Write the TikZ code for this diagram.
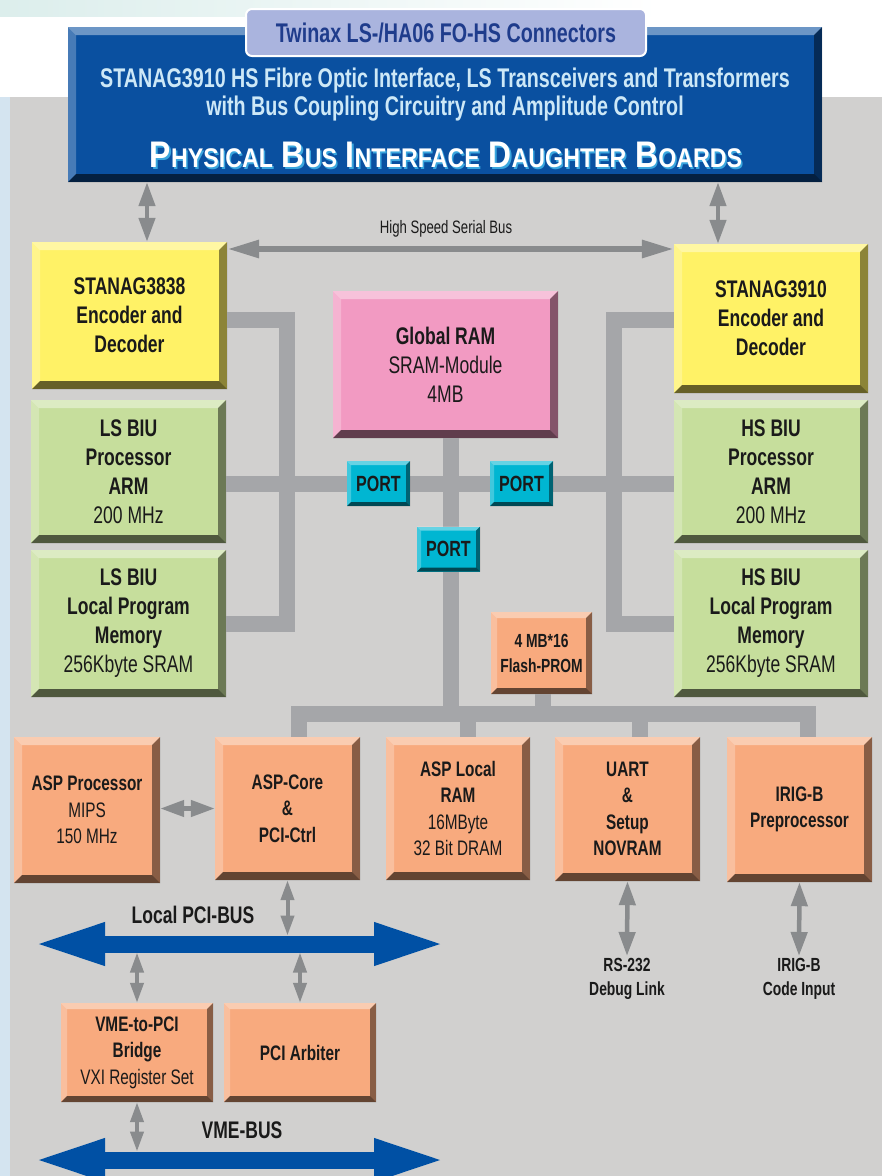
\documentclass[tikz,border=0pt]{standalone}
\usepackage{fontspec}
\setmainfont{Liberation Sans}[FakeStretch=0.73]
\newfontfamily\titlefont{Liberation Sans}[FakeStretch=0.86]
\usetikzlibrary{calc,arrows.meta}

\definecolor{bggray}{HTML}{D1D0CF}
\definecolor{sideblue}{HTML}{D4E4F0}
\definecolor{topteal}{HTML}{DCEEEC}
\definecolor{hdrblue}{HTML}{0A50A0}
\definecolor{tabblue}{HTML}{AAB4DE}
\definecolor{tabtext}{HTML}{1F3C8C}
\definecolor{hdrtext}{HTML}{CDE8F7}
\definecolor{ttlshade}{HTML}{3AA6DE}
\definecolor{byellow}{HTML}{FFF266}
\definecolor{bgreen}{HTML}{C6DE9C}
\definecolor{bpink}{HTML}{F29AC2}
\definecolor{borange}{HTML}{F8AA7E}
\definecolor{bcyan}{HTML}{00B6D2}
\definecolor{bargray}{HTML}{A5A6A9}
\definecolor{arrgray}{HTML}{898B8D}
\definecolor{busblue}{HTML}{0050A4}
\definecolor{ink}{HTML}{1A1A1A}

\newcommand\smc[1]{{\fontsize{27}{30}\selectfont #1}}
\newcommand\ttltext{P\smc{HYSICAL} B\smc{US} I\smc{NTERFACE} D\smc{AUGHTER} B\smc{OARDS}}

\tikzset{
  bevel/.style={path picture={
    \path (path picture bounding box.north west) coordinate (bv1)
          (path picture bounding box.north east) coordinate (bv2)
          (path picture bounding box.south east) coordinate (bv3)
          (path picture bounding box.south west) coordinate (bv4);
    \fill[white,opacity=.4] (bv1) -- (bv2) -- ([shift={(-#1pt,-#1pt)}]bv2) -- ([shift={(#1pt,-#1pt)}]bv1) -- cycle;
    \fill[white,opacity=.25] (bv1) -- ([shift={(#1pt,-#1pt)}]bv1) -- ([shift={(#1pt,#1pt)}]bv4) -- (bv4) -- cycle;
    \fill[black,opacity=.45] (bv2) -- (bv3) -- ([shift={(-#1pt,#1pt)}]bv3) -- ([shift={(-#1pt,-#1pt)}]bv2) -- cycle;
    \fill[black,opacity=.6] (bv4) -- (bv3) -- ([shift={(-#1pt,#1pt)}]bv3) -- ([shift={(#1pt,#1pt)}]bv4) -- cycle;
  }},
  bevel/.default=8,
  wh/.style 2 args={minimum width=#1pt, minimum height=#2pt},
  blk/.style={bevel, inner sep=0pt, align=center, text=ink, font=\fontsize{24}{29}\selectfont},
  sblk/.style={bevel, inner sep=0pt, align=center, text=ink, font=\fontsize{21}{26.5}\selectfont},
  port/.style={bevel=4, fill=bcyan, inner sep=0pt, wh={63}{45}, text=ink, font=\fontsize{22}{26}\selectfont\bfseries},
  bar/.style={draw=bargray, line width=16pt, line join=miter},
  garrow/.style={draw=arrgray, line width=4.5pt, {Triangle[width=16pt,length=24pt]}-{Triangle[width=16pt,length=24pt]}},
  sarrow/.style={draw=arrgray, line width=4pt, {Triangle[width=13pt,length=20pt]}-{Triangle[width=13pt,length=20pt]}},
  hsarrow/.style={draw=arrgray, line width=6pt, {Triangle[width=17pt,length=32pt]}-{Triangle[width=17pt,length=32pt]}},
  busarrow/.style={draw=busblue, line width=17pt, {Triangle[width=38pt,length=73pt]}-{Triangle[width=38pt,length=73pt]}},
  lbl/.style={text=ink, align=center, inner sep=2pt},
}

\begin{document}
\begin{tikzpicture}[x=1pt,y=-1pt]
\useasboundingbox (0,0) rectangle (882,1176);

%% background
\fill[white] (0,0) rectangle (882,1176);
\fill[left color=topteal, right color=white] (0,0) rectangle (660,16);
\fill[sideblue] (0,97) rectangle (10,1176);
\fill[bggray] (10,97) rectangle (882,1176);

%% physical bus interface daughter boards
\node[bevel, fill=hdrblue, wh={754}{155}, inner sep=0pt] (hdr) at (445,104.5) {};
\node[fill=tabblue, draw=white, line width=2pt, rounded corners=6pt, wh={400}{47}, inner sep=0pt,
      text=tabtext, font=\fontsize{27}{30}\selectfont\bfseries] (tab) at (446,32.5) {Twinax LS-/HA06 FO-HS Connectors};
\node[text=hdrtext, align=center, font=\fontsize{27}{28}\selectfont\bfseries] (hdrtxt) at (445,95)
  {STANAG3910 HS Fibre Optic Interface, LS Transceivers and Transformers\\with Bus Coupling Circuitry and Amplitude Control};
% light blue shade under the white title
\node[text=ttlshade, font=\titlefont\fontsize{37}{40}\selectfont\bfseries] (ttlsh) at (447.5,156.5) {\ttltext};
\node[text=white, font=\titlefont\fontsize{37}{40}\selectfont\bfseries] (ttl) at (446,155) {\ttltext};

%% encoders, BIUs and global RAM
\node[blk, fill=byellow, wh={195}{147}, font=\fontsize{24}{29}\selectfont\bfseries] (enc38) at (129.5,315.5) {STANAG3838\\Encoder and\\Decoder};
\node[blk, fill=byellow, wh={194}{149}, font=\fontsize{24}{29}\selectfont\bfseries] (enc10) at (771,318.5) {STANAG3910\\Encoder and\\Decoder};
\node[blk, fill=bgreen, wh={195}{143}] (lsproc) at (128.5,471.5) {\bfseries LS BIU\\\bfseries Processor\\\bfseries ARM\\200 MHz};
\node[blk, fill=bgreen, wh={195}{147}] (lsmem) at (128.5,623.5) {\bfseries LS BIU\\\bfseries Local Program\\\bfseries Memory\\256Kbyte SRAM};
\node[blk, fill=bgreen, wh={194}{143}] (hsproc) at (771,471.5) {\bfseries HS BIU\\\bfseries Processor\\\bfseries ARM\\200 MHz};
\node[blk, fill=bgreen, wh={194}{147}] (hsmem) at (771,623.5) {\bfseries HS BIU\\\bfseries Local Program\\\bfseries Memory\\256Kbyte SRAM};
\node[blk, fill=bpink, wh={225}{147}] (gram) at (445.5,364.5) {\bfseries Global RAM\\SRAM-Module\\4MB};

% internal buses
\coordinate (lt) at (287,320);
\coordinate (lb) at (287,624);
\coordinate (rt) at (614,320);
\coordinate (rb) at (614,624);
\coordinate (mid) at (0,484);
\coordinate (cv) at (451,714);
\coordinate (d1) at (299,714);
\coordinate (d2) at (468,714);
\coordinate (d3) at (640,714);
\coordinate (d4) at (808,714);
\coordinate (fl) at (543,714);
\draw[bar] (enc38.east |- lt) -- (lt) -- (lb) -- (lsmem.east |- lb);
\draw[bar] (enc10.west |- rt) -- (rt) -- (rb) -- (hsmem.west |- rb);
\draw[bar] (lsproc.east |- mid) -- (hsproc.west |- mid);
\draw[bar] (cv |- gram.south) -- (cv);

%% ASP section
\node[sblk, fill=borange, wh={146}{146}] (aspproc) at (87,810) {\bfseries ASP Processor\\MIPS\\150 MHz};
\node[sblk, fill=borange, wh={145}{143}, font=\fontsize{21}{26.5}\selectfont\bfseries] (aspcore) at (287.5,808.5) {ASP-Core\\\&\\PCI-Ctrl};
\node[sblk, fill=borange, wh={144}{143}] (asplram) at (458,808.5) {\bfseries ASP Local\\\bfseries RAM\\16MByte\\32 Bit DRAM};
\node[sblk, fill=borange, wh={145}{144}, font=\fontsize{21}{26.5}\selectfont\bfseries] (uart) at (627.5,809) {UART\\\&\\Setup\\NOVRAM};
\node[sblk, fill=borange, wh={145}{145}, font=\fontsize{21}{26.5}\selectfont\bfseries] (irig) at (799.5,809.5) {IRIG-B\\Preprocessor};
\node[sblk, bevel=6, fill=borange, wh={101}{82}, font=\fontsize{19}{25}\selectfont\bfseries] (flash) at (541.5,653) {4 MB*16\\Flash-PROM};

% ASP bus
\draw[bar] (d1 |- aspcore.north) -- (d1) -- (d4) -- (d4 |- irig.north);
\draw[bar] (d2) -- (d2 |- asplram.north);
\draw[bar] (d3) -- (d3 |- uart.north);
\draw[bar] (fl) -- (fl |- flash.south);

% ports
\node[port] (portl) at (378.5,483.5) {PORT};
\node[port] (portr) at (521.5,483.5) {PORT};
\node[port] (portc) at (448.5,549) {PORT};

%% connections
\coordinate (c1) at (147,0);
\coordinate (c2) at (718,0);
\coordinate (hs) at (0,249);
\draw[garrow] (hdr.south -| c1) -- (enc38.north -| c1);
\draw[garrow] (hdr.south -| c2) -- (enc10.north -| c2);
\draw[hsarrow] (enc38.east |- hs) -- (enc10.west |- hs);
\node[lbl, font=\fontsize{18}{21}\selectfont] (hslbl) at (446,229) {High Speed Serial Bus};
\draw[garrow] (aspproc.east |- aspcore.west) -- (aspcore.west);

% external links
\node[lbl, anchor=north, font=\fontsize{19}{24}\selectfont\bfseries] (rs) at (627,956) {RS-232\\Debug Link};
\node[lbl, anchor=north, font=\fontsize{19}{24}\selectfont\bfseries] (irigin) at (799,956) {IRIG-B\\Code Input};
\draw[garrow] (uart.south) -- (rs.north);
\draw[garrow] (irig.south) -- (irigin.north);

%% local PCI bus and VME bus
\coordinate (pcil) at (32,944);
\coordinate (pcir) at (447,944);
\coordinate (vmel) at (32,1160);
\coordinate (vmer) at (447,1160);
\draw[busarrow] (pcil) -- (pcir);
\draw[busarrow] (vmel) -- (vmer);
\node[lbl, font=\fontsize{24}{28}\selectfont\bfseries] (pcilbl) at (193,915) {Local PCI-BUS};
\node[lbl, font=\fontsize{24}{28}\selectfont\bfseries] (vmelbl) at (242,1130) {VME-BUS};

\node[sblk, bevel=6, fill=borange, wh={152}{99}] (vmebr) at (137,1052.5) {\bfseries VME-to-PCI\\\bfseries Bridge\\VXI Register Set};
\node[sblk, bevel=6, fill=borange, wh={152}{99}, font=\fontsize{21}{26.5}\selectfont\bfseries] (arb) at (300,1052.5) {PCI Arbiter};

\draw[sarrow] (aspcore.south) -- ([yshift=8.5pt]aspcore.south |- pcil);
\draw[sarrow] (vmebr.north) -- ([yshift=-8.5pt]vmebr.north |- pcil);
\draw[sarrow] (arb.north) -- ([yshift=-8.5pt]arb.north |- pcil);
\draw[sarrow] (vmebr.south) -- ([yshift=8.5pt]vmebr.south |- vmel);

\end{tikzpicture}
\end{document}
